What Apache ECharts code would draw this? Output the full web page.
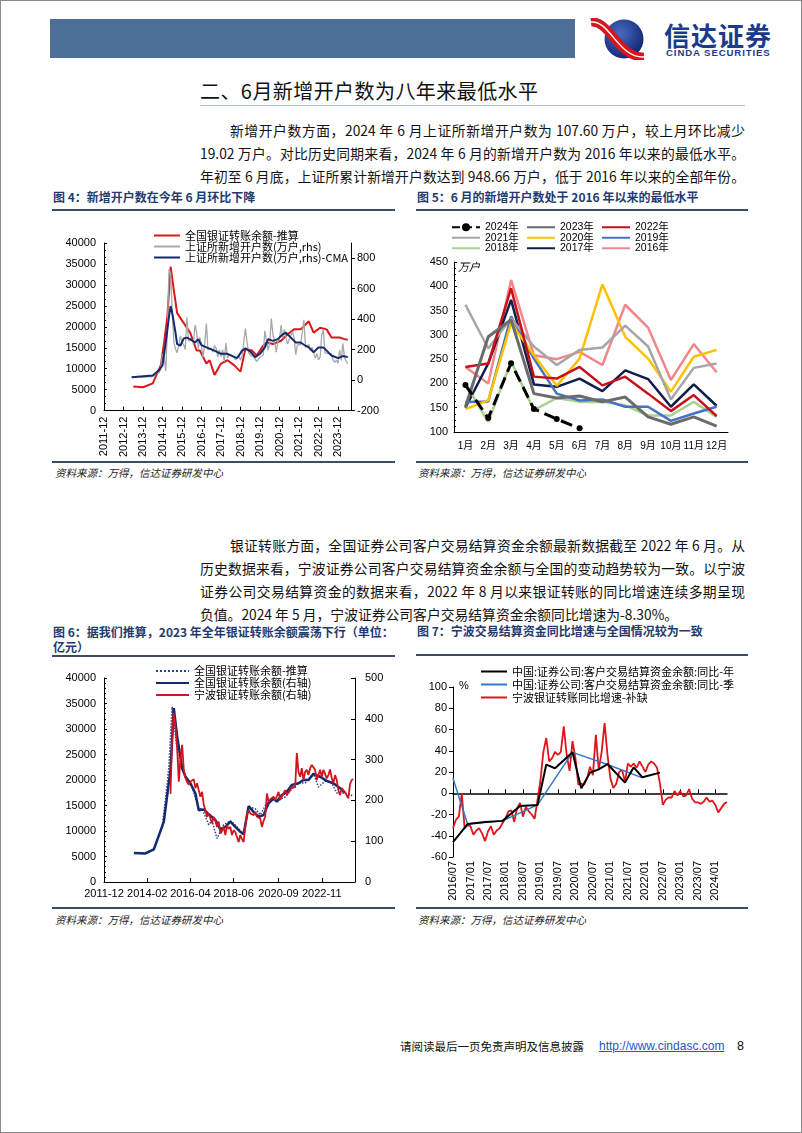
<!DOCTYPE html>
<html><head><meta charset="utf-8">
<script src="https://cdn.jsdelivr.net/npm/echarts@6/dist/echarts.min.js"></script>
<style>
body{margin:0;background:#fff;}
#page{position:relative;width:802px;height:1133px;overflow:hidden;background:#fff;font-family:'Noto Sans CJK SC',sans-serif;color:#000;}
#frame{position:absolute;left:0;top:0;width:800px;height:1131px;border:1px solid #8a8a8a;}
.para{position:absolute;font-size:13.8px;line-height:20px;height:20px;white-space:nowrap;text-align:justify;text-align-last:justify;color:#111;}
.ttl{position:absolute;font-size:12px;font-weight:bold;color:#1f3b6e;line-height:14px;white-space:nowrap;text-align:justify;text-align-last:justify;}
.rule{position:absolute;height:1.5px;background:#3c4b66;}
.src{position:absolute;font-size:10.5px;font-style:italic;color:#222;line-height:12px;white-space:nowrap;}
.chart{position:absolute;}
</style></head><body><div id="page">
<div id="frame"></div>
<div style="position:absolute;left:50px;top:19px;width:525px;height:39px;background:#4d6f97;"></div>
<svg style="position:absolute;left:588px;top:18px" width="64" height="42">
 <defs><radialGradient id="lg" cx="40%" cy="35%" r="65%"><stop offset="0" stop-color="#4a6cc0"/><stop offset="1" stop-color="#132877"/></radialGradient></defs>
 <circle cx="36" cy="21" r="19.5" fill="url(#lg)"/>
 <path d="M3,4 C22,2 30,40 56,39" stroke="#d8141c" stroke-width="9" fill="none"/>
 <path d="M3,4 C22,2 30,40 56,39" stroke="#fff" stroke-width="1.4" fill="none"/>
</svg>
<div style="position:absolute;left:664px;top:20px;font-size:26px;font-weight:bold;color:#1b3a8a;letter-spacing:1px;line-height:30px;white-space:nowrap;">信达证券</div>
<div style="position:absolute;left:666px;top:48px;font-family:'Liberation Sans',Arial;font-size:9.6px;font-weight:bold;color:#1b3a8a;line-height:10px;white-space:nowrap;letter-spacing:0.9px;">CINDA SECURITIES</div>

<div style="position:absolute;left:200px;top:78px;width:338px;font-size:20px;line-height:26px;white-space:nowrap;text-align:justify;text-align-last:justify;color:#111;">二、6月新增开户数为八年来最低水平</div>
<div style="position:absolute;left:200px;top:105px;width:545px;height:1px;background:#b3c0d2;"></div>

<div class="para" style="left:230px;top:120px;width:515px;">新增开户数方面，2024 年 6 月上证所新增开户数为 107.60 万户，较上月环比减少</div>
<div class="para" style="left:200px;top:143px;width:545px;">19.02 万户。对比历史同期来看，2024 年 6 月的新增开户数为 2016 年以来的最低水平。</div>
<div class="para" style="left:200px;top:166px;width:545px;">年初至 6 月底，上证所累计新增开户数达到 948.66 万户，低于 2016 年以来的全部年份。</div>

<div class="ttl" style="left:53px;top:190px;">图 4：新增开户数在今年 6 月环比下降</div>
<div class="rule" style="left:52px;top:209px;width:343px;"></div>
<div class="ttl" style="left:417px;top:190px;">图 5：6 月的新增开户数处于 2016 年以来的最低水平</div>
<div class="rule" style="left:416px;top:209px;width:332px;"></div>
<div class="rule" style="left:52px;top:461px;width:343px;"></div>
<div class="src" style="left:55px;top:467px;">资料来源：万得，信达证券研发中心</div>
<div class="rule" style="left:416px;top:461px;width:332px;"></div>
<div class="src" style="left:418px;top:467px;">资料来源：万得，信达证券研发中心</div>

<div class="para" style="left:230px;top:535px;width:515px;">银证转账方面，全国证券公司客户交易结算资金余额最新数据截至 2022 年 6 月。从</div>
<div class="para" style="left:200px;top:558px;width:545px;">历史数据来看，宁波证券公司客户交易结算资金余额与全国的变动趋势较为一致。以宁波</div>
<div class="para" style="left:200px;top:581px;width:545px;">证券公司交易结算资金的数据来看，2022 年 8 月以来银证转账的同比增速连续多期呈现</div>
<div class="para" style="left:200px;top:604px;text-align:left;text-align-last:left;">负值。2024 年 5 月，宁波证券公司客户交易结算资金余额同比增速为-8.30%。</div>

<div class="ttl" style="left:53px;top:625px;width:340px;">图 6：据我们推算，2023 年全年银证转账余额震荡下行（单位：</div>
<div class="ttl" style="left:53px;top:640px;text-align:left;text-align-last:left;">亿元）</div>
<div class="rule" style="left:52px;top:655px;width:343px;"></div>
<div class="ttl" style="left:417px;top:624px;">图 7：宁波交易结算资金同比增速与全国情况较为一致</div>
<div class="rule" style="left:416px;top:654px;width:332px;"></div>
<div class="rule" style="left:52px;top:907px;width:343px;"></div>
<div class="src" style="left:55px;top:914px;">资料来源：万得，信达证券研发中心</div>
<div class="rule" style="left:416px;top:907px;width:332px;"></div>
<div class="src" style="left:418px;top:914px;">资料来源：万得，信达证券研发中心</div>

<div style="position:absolute;left:400px;top:1038px;font-size:11.5px;line-height:16px;white-space:nowrap;color:#111;">请阅读最后一页免责声明及信息披露</div>
<div style="position:absolute;left:599px;top:1038px;font-family:'Liberation Sans',Arial;font-size:12px;line-height:16px;color:#1f56c4;text-decoration:underline;white-space:nowrap;">http://www.cindasc.com</div>
<div style="position:absolute;left:737px;top:1038px;font-family:'Liberation Sans',Arial;font-size:12.5px;line-height:16px;color:#111;">8</div>

<div id="c4" class="chart" style="left:45px;top:215px;width:360px;height:245px;"></div>
<div id="c5" class="chart" style="left:410px;top:215px;width:345px;height:245px;"></div>
<div id="c6" class="chart" style="left:45px;top:660px;width:360px;height:245px;"></div>
<div id="c7" class="chart" style="left:410px;top:660px;width:345px;height:245px;"></div>
</div>
<script>
// ===== Data =====
// Chart 4 / Chart 6: national bank-securities transfer balance (estimated), 亿元
const nationalEstDates = ['2013-06','2013-12','2014-06','2014-11','2015-01','2015-03','2015-05','2015-07','2015-09','2016-01','2016-05','2016-09','2016-11','2017-03','2017-05','2017-08','2017-12','2018-04','2018-08','2018-12','2019-03','2019-07','2019-10','2020-02','2020-04','2020-08','2021-01','2021-05','2021-09','2022-01','2022-06','2022-09','2023-01','2023-05','2023-08','2024-01','2024-04','2024-06'];
const nationalEstValues = [5740,5585,6515,10860,16290,22490,34350,28690,23260,20940,18610,14350,14350,11240,12020,8530,11240,12020,10860,9310,14740,14350,13180,15510,16290,15900,16670,18220,19390,19390,21320,18610,19770,19390,17450,17450,17060,16900];

// SSE new accounts (万户), monthly
const sseNewStart = '2013-05';
const sseNew2013to2015 = [20,18,20,22,25,22,20,22, 20,22,25,22,20,22,30,45,55,50,90,170, 150,60,330,727,700,450,250,205,180,226,290,250];
const y2016 = [234,200,413,258,250,265,238,362,315,207,281,223];
const y2017 = [150,241,372,198,193,210,184,227,209,152,198,154];
const y2018 = [200,121,245,145,170,162,162,155,134,134,162,131];
const y2019 = [162,163,338,251,179,165,167,152,152,123,138,152];
const y2020 = [147,165,324,258,195,251,404,296,251,183,255,269];
const y2021 = [362,272,334,276,238,269,274,319,276,167,232,241];
const y2022 = [234,241,396,214,210,234,196,214,179,143,176,133];
const y2023 = [152,296,331,179,170,174,162,172,131,116,131,112];
const y2024 = [196.56,128.84,241.61,147.43,126.62,107.60];

// SSE new accounts CMA (万户)
const cmaDates = ['2013-05','2014-06','2014-10','2014-12','2015-02','2015-04','2015-05','2015-06','2015-08','2015-09','2015-11','2016-01','2016-03','2016-05','2016-08','2016-10','2016-12','2017-03','2017-08','2017-12','2018-04','2018-07','2018-10','2019-01','2019-03','2019-06','2019-09','2019-12','2020-03','2020-05','2020-08','2020-11','2021-02','2021-04','2021-07','2021-10','2022-01','2022-04','2022-06','2022-09','2022-12','2023-03','2023-05','2023-08','2023-12','2024-03','2024-06'];
const cmaValues = [19,30,66,98,247,418,486,439,311,237,226,273,279,269,247,269,230,215,194,173,173,158,145,194,209,188,151,173,215,269,258,269,301,311,279,247,247,226,215,183,215,215,194,162,145,158,151];

const c4TickDates = ['2011-12','2012-12','2013-12','2014-12','2015-12','2016-12','2017-12','2018-12','2019-12','2020-12','2021-12','2022-12','2023-12'];

// Chart 5
const monthCats = ['1月','2月','3月','4月','5月','6月','7月','8月','9月','10月','11月','12月'];

// Chart 6: national actual (right axis) and Ningbo
const nationalDates = ['2013-06','2014-01','2014-06','2014-12','2015-04','2015-06','2015-08','2015-11','2016-01','2016-04','2016-07','2016-09','2016-12','2017-03','2017-07','2017-10','2018-01','2018-04','2018-07','2018-10','2018-12','2019-03','2019-06','2019-09','2019-12','2020-03','2020-06','2020-08','2020-11','2021-02','2021-05','2021-09','2021-12','2022-03','2022-06','2022-10','2023-02','2023-06','2023-10','2024-01'];
const nationalValues = [71,70,80,148,275,426,357,279,258,242,217,176,178,166,152,129,135,148,135,123,117,186,172,160,164,193,205,197,213,221,238,242,250,250,265,258,248,242,230,219];
const ningboStart = '2015-04';
const ningboValues = [216,356,414,380,330,246,300,336,275,255,
 245,238,246,250,252,230,242,225,209,221,
 190,176,160,168,165,144,160,150,135,148,
 119,125,135,115,139,130,135,115,127,122,
 119,98,115,105,98,135,165,176,168,166,
 164,172,160,158,156,135,150,160,217,197,
 203,205,209,201,210,221,201,210,213,225,
 213,220,225,234,230,232,316,270,258,279,
 250,270,275,262,279,287,283,275,250,262,
 275,258,275,265,254,262,276,255,242,262,
 250,225,213,230,225,220,217,205,240,250,
 252];
const c6TickDates = ['2011-12','2014-02','2016-04','2018-06','2020-09','2022-11'];

// Chart 7
const c7Start = '2016-07', c7End = '2024-05';
const ningboYoY = [-33,-25,-22,0,-33,-30,-31,-39,-35,-33,-38,-45,-36,-31,-39,-35,-33,-28,-24,-17,-16,-27,-14,-9,-22,-13,-17,-20,-24,-6,
 12,39,52,30,33,39,36,39,63,36,21,49,33,8,9,8,14,25,17,55,22,39,66,36,14,5,9,20,22,11,
 28,25,28,24,30,25,20,27,30,28,24,9,-11,-6,-4,-4,2,-2,2,-3,-2,4,-5,-8.5,-8.5,-10,-8,-4,-8,-7,-11,-18,-14,-10,-8.3];
const yoyYearDates = ['2016/07','2016/12','2017/06','2017/12','2018/06','2018/12','2019/03','2019/06','2019/12','2020/03','2020/06','2020/09','2020/12','2021/06','2021/09','2021/12','2022/06'];
const yoyYearValues = [-46,-29,-27,-26,-12,-11,27,23.5,38.5,4.6,19.4,22.5,27.5,10,24.4,15,19.4];
const yoyQuarterDates = ['2016/07','2016/12','2017/12','2018/12','2019/12','2020/12','2021/12'];
const yoyQuarterValues = [14,-29,-26,-11,38.5,27,14.5];

// ===== helpers =====
function mi(s){const p=s.split(/[-\/]/);return (+p[0]-2011)*12+(+p[1]-12);}
function idxToYM(i,sep){const t=i+11;const y=2011+Math.floor(t/12);const m=t%12+1;return y+sep+(m<10?'0':'')+m;}
function pairs(ds,vs){return ds.map((d,i)=>[mi(d),vs[i]]);}
function monthly(start,vs){const s=mi(start);return vs.map((v,i)=>[s+i,v]);}
function pairsCat(ds,vs){return ds.map((d,i)=>[d,vs[i]]);}

const AXF = {color:'#000',fontSize:11,fontFamily:'Liberation Sans, Arial, sans-serif'};
const BLK = {lineStyle:{color:'#000',width:1}};
const LEG_TXT = {fontFamily:'Noto Sans CJK SC',fontSize:11,color:'#000',lineHeight:10};
const plain = v => String(v);
const NOSYM = {opacity:0};

// ===== Chart 4 =====
const sseAll = sseNew2013to2015.concat(y2016,y2017,y2018,y2019,y2020,y2021,y2022,y2023,y2024);
const c4Ticks = c4TickDates.map(mi);
echarts.init(document.getElementById('c4')).setOption({
  animation:false,
  grid:{left:59,top:28,width:247,height:172},
  legend:{orient:'vertical',left:103,top:10,itemWidth:26,itemHeight:10,itemGap:0,textStyle:LEG_TXT,itemStyle:NOSYM,
    data:['全国银证转账余额-推算','上证所新增开户数(万户,rhs)','上证所新增开户数(万户,rhs)-CMA']},
  xAxis:{type:'value',min:0,max:152,splitLine:{show:false},axisLine:BLK,
    axisTick:{inside:true,length:4,customValues:c4Ticks,lineStyle:{color:'#000'}},
    axisLabel:Object.assign({customValues:c4Ticks,rotate:90,margin:6,formatter:v=>idxToYM(v,'-')},AXF)},
  yAxis:[
    {type:'value',min:0,max:40000,interval:5000,splitLine:{show:false},axisLine:{show:true,lineStyle:{color:'#000'}},
     axisTick:{show:true,inside:true,length:3,lineStyle:{color:'#000'}},
     minorTick:{show:true,splitNumber:3,length:2,lineStyle:{color:'#000'}},
     axisLabel:Object.assign({margin:8,formatter:plain},AXF)},
    {type:'value',min:-200,max:900,position:'right',splitLine:{show:false},axisLine:{show:true,lineStyle:{color:'#000'}},
     axisTick:{show:true,length:4,customValues:[-200,0,200,400,600,800],lineStyle:{color:'#000'}},
     axisLabel:Object.assign({customValues:[-200,0,200,400,600,800],margin:6,formatter:plain},AXF)}
  ],
  series:[
    {name:'全国银证转账余额-推算',type:'line',yAxisIndex:0,symbol:'none',color:'#d8191c',lineStyle:{width:2},data:pairs(nationalEstDates,nationalEstValues)},
    {name:'上证所新增开户数(万户,rhs)',type:'line',yAxisIndex:1,symbol:'none',color:'#a8a8a8',lineStyle:{width:1.3},data:monthly(sseNewStart,sseAll)},
    {name:'上证所新增开户数(万户,rhs)-CMA',type:'line',yAxisIndex:1,symbol:'none',color:'#142a6c',lineStyle:{width:2},data:pairs(cmaDates,cmaValues)}
  ]
});

// ===== Chart 5 =====
const yearSeries = [
  ['2024年',y2024,'#000000',3,'dashed'],['2023年',y2023,'#6b6b6b',3,'solid'],['2022年',y2022,'#c8101a',2.5,'solid'],
  ['2021年',y2021,'#a6a6a6',2.5,'solid'],['2020年',y2020,'#ffc000',2.5,'solid'],['2019年',y2019,'#4472c4',2.5,'solid'],
  ['2018年',y2018,'#a9d18e',2.5,'solid'],['2017年',y2017,'#0f1d4d',2.5,'solid'],['2016年',y2016,'#f3868c',2.5,'solid']
];
function leg5(left,names){return {orient:'vertical',left:left,top:2,itemWidth:28,itemHeight:10,itemGap:0,itemStyle:NOSYM,
  textStyle:{fontFamily:'Liberation Sans, Noto Sans CJK SC',fontSize:10.5,color:'#000',lineHeight:10},
  data:names.map(n=>n==='2024年'?{name:n,itemStyle:{opacity:1}}:n)};}
echarts.init(document.getElementById('c5')).setOption({
  animation:false,
  grid:{left:44,top:47,width:274,height:170},
  legend:[leg5(36,['2024年','2021年','2018年']),leg5(111,['2023年','2020年','2017年']),leg5(186,['2022年','2019年','2016年'])],
  graphic:[{type:'text',left:48,top:46,style:{text:'万户',font:'italic 11px "Noto Sans CJK SC"',fill:'#000'}}],
  xAxis:{type:'category',data:monthCats,boundaryGap:true,axisLine:BLK,
    axisTick:{inside:true,length:4,lineStyle:{color:'#000'}},
    axisLabel:Object.assign({},AXF,{margin:9,interval:0,fontSize:10,fontFamily:'Liberation Sans, Noto Sans CJK SC'})},
  yAxis:{type:'value',min:100,max:450,interval:50,splitLine:{show:false},axisLine:{show:true,lineStyle:{color:'#000'}},
    axisTick:{show:true,inside:true,length:3,lineStyle:{color:'#000'}},
    minorTick:{show:true,splitNumber:4,length:2,lineStyle:{color:'#000'}},
    axisLabel:Object.assign({margin:6},AXF)},
  series:yearSeries.slice().reverse().map(s=>({name:s[0],type:'line',data:s[1],color:s[2],
    symbol:s[0]==='2024年'?'circle':'none',symbolSize:6,showSymbol:s[0]==='2024年',
    lineStyle:{width:s[3],type:s[4]},z:s[0]==='2024年'?5:2}))
});

// ===== Chart 6 =====
const c6Ticks = c6TickDates.map(mi);
echarts.init(document.getElementById('c6')).setOption({
  animation:false,
  grid:{left:59,top:18,width:251,height:204},
  legend:{orient:'vertical',left:105,top:0,itemWidth:33,itemHeight:12,itemGap:0,itemStyle:NOSYM,textStyle:Object.assign({},LEG_TXT,{lineHeight:12}),
    data:['全国银证转账余额-推算','全国银证转账余额(右轴)','宁波银证转账余额(右轴)']},
  xAxis:{type:'value',min:0,max:151,splitLine:{show:false},axisLine:BLK,
    axisTick:{inside:true,length:4,customValues:c6Ticks,lineStyle:{color:'#000'}},
    axisLabel:Object.assign({customValues:c6Ticks,margin:6,formatter:v=>idxToYM(v,'-')},AXF)},
  yAxis:[
    {type:'value',min:0,max:40000,interval:5000,splitLine:{show:false},axisLine:{show:true,lineStyle:{color:'#000'}},
     axisTick:{show:true,inside:true,length:3,lineStyle:{color:'#000'}},
     minorTick:{show:true,splitNumber:5,length:2,lineStyle:{color:'#000'}},
     axisLabel:Object.assign({margin:8,formatter:plain},AXF)},
    {type:'value',min:0,max:500,interval:100,position:'right',splitLine:{show:false},axisLine:{show:true,lineStyle:{color:'#000'}},
     axisTick:{show:true,inside:true,length:4,lineStyle:{color:'#000'}},
     axisLabel:Object.assign({margin:10,formatter:plain},AXF)}
  ],
  series:[
    {name:'全国银证转账余额-推算',type:'line',yAxisIndex:0,symbol:'none',color:'#2b4190',lineStyle:{width:1.5,type:'dotted'},data:pairs(nationalEstDates,nationalEstValues)},
    {name:'全国银证转账余额(右轴)',type:'line',yAxisIndex:1,symbol:'none',color:'#132a6e',lineStyle:{width:2.5},data:pairs(nationalDates,nationalValues)},
    {name:'宁波银证转账余额(右轴)',type:'line',yAxisIndex:1,symbol:'none',color:'#d3141c',lineStyle:{width:1.8},data:monthly(ningboStart,ningboValues)}
  ]
});

// ===== Chart 7 =====
const months7 = [];
for(let i=mi(c7Start);i<=mi(c7End);i++) months7.push(idxToYM(i,'/'));
echarts.init(document.getElementById('c7')).setOption({
  animation:false,
  grid:{left:43,top:27,width:274,height:170},
  legend:{orient:'vertical',left:65,top:0,itemWidth:26,itemHeight:13,itemGap:0,itemStyle:NOSYM,textStyle:Object.assign({},LEG_TXT,{lineHeight:13}),
    data:['中国:证券公司:客户交易结算资金余额:同比-年','中国:证券公司:客户交易结算资金余额:同比-季','宁波银证转账同比增速-补缺']},
  graphic:[{type:'text',left:49,top:20,style:{text:'%',font:'11px "Liberation Sans"',fill:'#000'}}],
  xAxis:[
    {type:'category',data:months7,boundaryGap:false,position:'bottom',axisLine:{show:false,onZero:false},axisTick:{show:false},
     axisLabel:Object.assign({interval:5,rotate:90,margin:4},AXF)},
    {type:'category',data:months7,boundaryGap:false,position:'bottom',axisLine:{show:true,onZero:true,lineStyle:{color:'#000',width:1.5}},
     axisTick:{show:true,inside:true,interval:5,length:4,lineStyle:{color:'#000'}},axisLabel:{show:false}}
  ],
  yAxis:{type:'value',min:-60,max:100,interval:20,splitLine:{show:false},axisLine:{show:true,lineStyle:{color:'#000'}},
    axisTick:{show:true,length:4,lineStyle:{color:'#000'}},axisLabel:Object.assign({margin:6},AXF)},
  series:[
    {name:'中国:证券公司:客户交易结算资金余额:同比-年',type:'line',symbol:'none',color:'#000',lineStyle:{width:2},data:pairsCat(yoyYearDates,yoyYearValues),z:4},
    {name:'中国:证券公司:客户交易结算资金余额:同比-季',type:'line',symbol:'none',color:'#2e7bc4',lineStyle:{width:1.5},data:pairsCat(yoyQuarterDates,yoyQuarterValues),z:3},
    {name:'宁波银证转账同比增速-补缺',type:'line',symbol:'none',color:'#e0141c',lineStyle:{width:1.8},data:ningboYoY,z:2}
  ]
});
</script>
</body></html>
